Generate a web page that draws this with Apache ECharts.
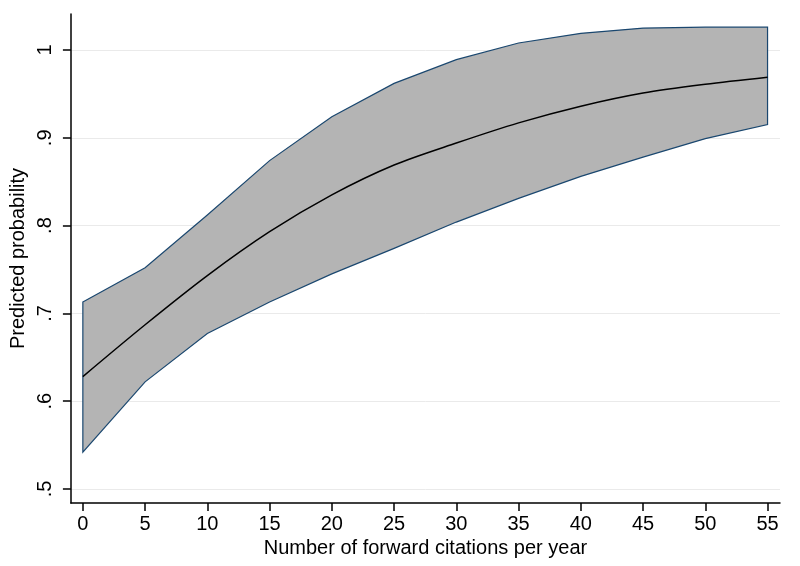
<!DOCTYPE html>
<html><head><meta charset="utf-8">
<script src="https://cdn.jsdelivr.net/npm/echarts@6/dist/echarts.min.js"></script>
<style>html,body{margin:0;padding:0;background:#fff}#c{width:800px;height:566px}</style>
</head><body><div id="c"></div>
<script>
const xValues = [0, 5, 10, 15, 20, 25, 30, 35, 40, 45, 50, 55];
const predicted = [0.628, 0.687, 0.743, 0.793, 0.835, 0.869, 0.894, 0.917, 0.936, 0.951, 0.961, 0.969];
const upperCI = [0.713, 0.752, 0.812, 0.874, 0.924, 0.962, 0.989, 1.008, 1.019, 1.025, 1.026, 1.026];
const lowerCI = [0.542, 0.622, 0.677, 0.713, 0.745, 0.774, 0.804, 0.831, 0.856, 0.878, 0.899, 0.915];
const xTicks = [0, 5, 10, 15, 20, 25, 30, 35, 40, 45, 50, 55];
const yTicks = [0.5, 0.6, 0.7, 0.8, 0.9, 1.0];

const font = 'Liberation Sans, Arial, sans-serif';
const chart = echarts.init(document.getElementById('c'), null, {renderer: 'canvas'});
const fmtY = v => { const s = (Math.round(v * 10) / 10).toString(); return s.startsWith('0') ? s.slice(1) : s; };

chart.setOption({
  animation: false,
  backgroundColor: '#fff',
  grid: {left: 70, right: 20, top: 14, bottom: 63, containLabel: false},
  xAxis: {
    type: 'value', min: -0.96, max: 56,
    name: 'Number of forward citations per year', nameLocation: 'middle', nameGap: 34,
    nameTextStyle: {fontFamily: font, fontSize: 20, color: '#000'},
    axisLine: {show: true, onZero: false, lineStyle: {color: '#000', width: 1.5}},
    axisTick: {show: true, length: 8, customValues: xTicks, lineStyle: {color: '#000', width: 1.5}},
    axisLabel: {customValues: xTicks, fontFamily: font, fontSize: 20, color: '#000', margin: 11},
    splitLine: {show: false}
  },
  yAxis: {
    type: 'value', min: 0.484, max: 1.041,
    name: 'Predicted probability', nameLocation: 'middle', nameGap: 37,
    nameTextStyle: {fontFamily: font, fontSize: 20, color: '#000'},
    axisLine: {show: true, onZero: false, lineStyle: {color: '#000', width: 1.5}},
    axisTick: {show: true, length: 8, customValues: yTicks, lineStyle: {color: '#000', width: 1.5}},
    axisLabel: {customValues: yTicks, rotate: 90, formatter: fmtY, fontFamily: font, fontSize: 20, color: '#000', margin: 15},
    splitLine: {show: true, lineStyle: {color: '#eaeaea', width: 1}}
  },
  series: [
    {
      type: 'custom',
      data: [[0]],
      z: 2,
      renderItem: function (params, api) {
        const pts = [];
        for (let i = 0; i < xValues.length; i++) pts.push(api.coord([xValues[i], upperCI[i]]));
        for (let i = xValues.length - 1; i >= 0; i--) pts.push(api.coord([xValues[i], lowerCI[i]]));
        return {
          type: 'polygon',
          shape: {points: pts},
          style: {fill: '#b4b4b4', stroke: '#1a476f', lineWidth: 1.2}
        };
      }
    },
    {
      type: 'line', z: 3,
      data: xValues.map((x, i) => [x, predicted[i]]),
      smooth: 0.3, symbol: 'none',
      lineStyle: {color: '#000', width: 1.5}
    }
  ]
});
</script></body></html>
